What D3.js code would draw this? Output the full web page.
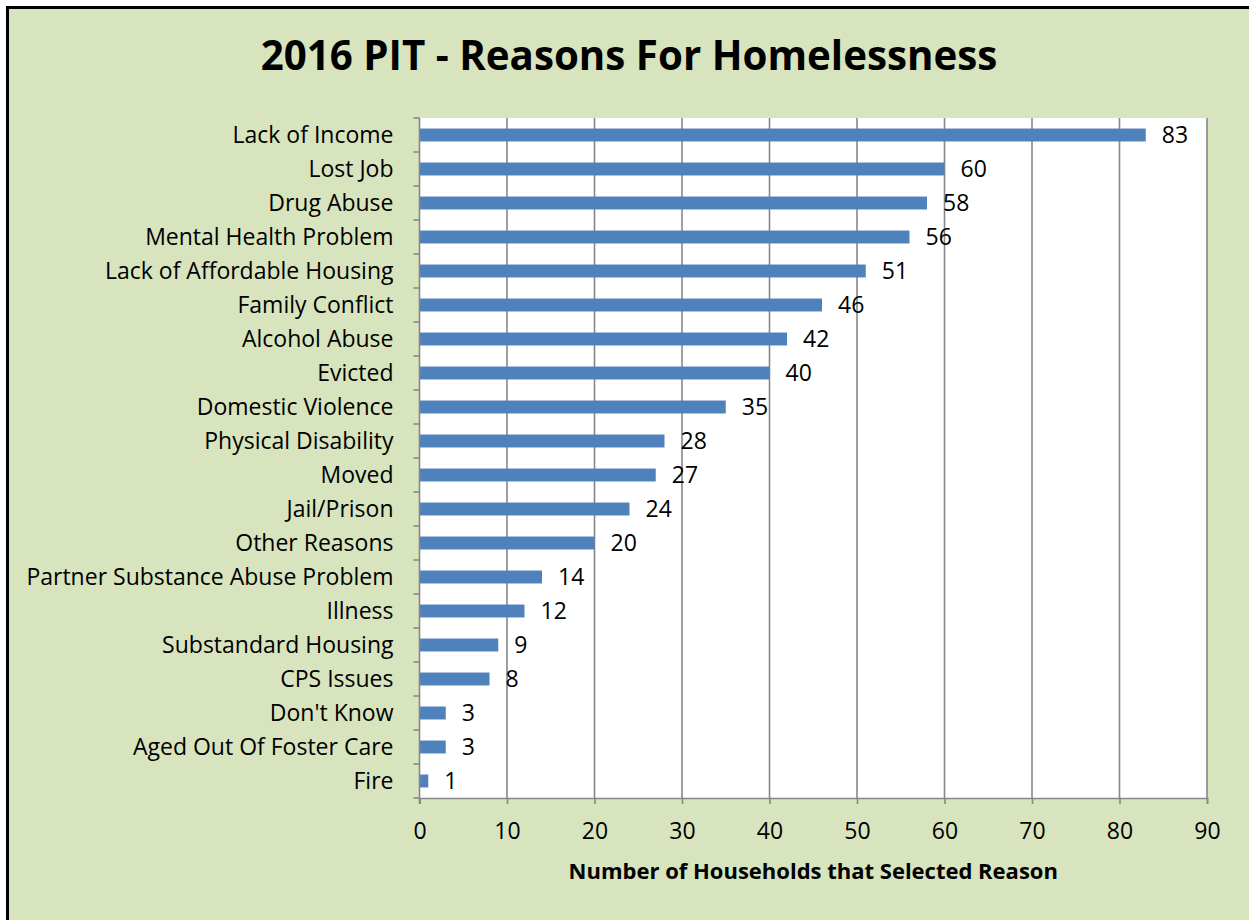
<!DOCTYPE html>
<html>
<head>
<meta charset="utf-8">
<script src="https://cdn.jsdelivr.net/npm/d3@7"></script>
<style>
  html, body { margin: 0; padding: 0; background: #ffffff; overflow: hidden; }
  svg { display: block; }
  text { font-family: "Open Sans", Lato, "Noto Sans", sans-serif; fill: #000; }
</style>
</head>
<body>
<svg id="chart" width="1249" height="920"></svg>
<script>
// Reasons reported in the 2016 Point-in-Time count, largest first
const categories = [
  "Lack of Income", "Lost Job", "Drug Abuse", "Mental Health Problem",
  "Lack of Affordable Housing", "Family Conflict", "Alcohol Abuse", "Evicted",
  "Domestic Violence", "Physical Disability", "Moved", "Jail/Prison",
  "Other Reasons", "Partner Substance Abuse Problem", "Illness",
  "Substandard Housing", "CPS Issues", "Don't Know", "Aged Out Of Foster Care", "Fire"
];
const households = [83, 60, 58, 56, 51, 46, 42, 40, 35, 28, 27, 24, 20, 14, 12, 9, 8, 3, 3, 1];
const xTicks = [0, 10, 20, 30, 40, 50, 60, 70, 80, 90];

const titleText = "2016 PIT - Reasons For Homelessness";
const xTitle = "Number of Households that Selected Reason";

const labelSize = "23px";

const svg = d3.select("#chart");

// chart background with a heavy left/top frame edge
svg.append("rect")
  .attr("x", 7.5).attr("y", 7.5)
  .attr("width", 1300).attr("height", 1000)
  .attr("fill", "#D7E4BD")
  .attr("stroke", "#000").attr("stroke-width", 3);

const plot = { left: 419.5, right: 1207, top: 118, bottom: 798 };

const x = d3.scaleLinear().domain([0, 90]).range([plot.left, plot.right]);
const y = d3.scaleBand().domain(categories).range([plot.top, plot.bottom])
  .paddingInner(0.62).paddingOuter(0.31);

// plot area
svg.append("rect")
  .attr("x", plot.left).attr("y", plot.top)
  .attr("width", plot.right - plot.left).attr("height", plot.bottom - plot.top)
  .attr("fill", "#ffffff");

// vertical gridlines
svg.append("g").selectAll("line")
  .data(xTicks.filter(d => d > 0))
  .join("line")
  .attr("x1", d => x(d)).attr("x2", d => x(d))
  .attr("y1", plot.top).attr("y2", plot.bottom)
  .attr("stroke", "#878787").attr("stroke-width", 1.6);

// bars
svg.append("g").selectAll("rect")
  .data(categories)
  .join("rect")
  .attr("x", x(0))
  .attr("y", d => y(d))
  .attr("width", (d, i) => x(households[i]) - x(0))
  .attr("height", y.bandwidth())
  .attr("fill", "#4F81BD");

// value labels
svg.append("g").selectAll("text")
  .data(categories)
  .join("text")
  .attr("x", (d, i) => x(households[i]) + 16)
  .attr("y", d => y(d) + y.bandwidth() / 2)
  .attr("dy", "0.36em")
  .style("font-size", labelSize)
  .text((d, i) => households[i]);

// x axis
const xAxis = svg.append("g")
  .attr("transform", `translate(0,${plot.bottom})`)
  .call(d3.axisBottom(x).tickValues(xTicks).tickSize(6).tickPadding(19).tickFormat(d3.format("d")));
xAxis.select(".domain").attr("stroke", "#878787").attr("stroke-width", 1.6);
xAxis.selectAll(".tick line").attr("stroke", "#878787").attr("stroke-width", 1.6);
xAxis.selectAll(".tick text").style("font-size", labelSize)
  .style("font-family", "'Open Sans', Lato, sans-serif").attr("fill", "#000");

// y axis: ticks between categories, labels centred on each bar
const boundaries = d3.range(categories.length + 1)
  .map(i => plot.top + i * (plot.bottom - plot.top) / categories.length);
const yAxis = svg.append("g");
yAxis.append("line")
  .attr("x1", plot.left).attr("x2", plot.left)
  .attr("y1", plot.top).attr("y2", plot.bottom + 6)
  .attr("stroke", "#878787").attr("stroke-width", 1.6);
yAxis.selectAll("line.tk")
  .data(boundaries)
  .join("line").attr("class", "tk")
  .attr("x1", plot.left - 6).attr("x2", plot.left)
  .attr("y1", d => d).attr("y2", d => d)
  .attr("stroke", "#878787").attr("stroke-width", 1.6);
yAxis.selectAll("text")
  .data(categories)
  .join("text")
  .attr("x", plot.left - 26)
  .attr("y", d => y(d) + y.bandwidth() / 2)
  .attr("dy", "0.36em")
  .attr("text-anchor", "end")
  .style("font-size", labelSize)
  .text(d => d);

// title
svg.append("text")
  .attr("x", 629).attr("y", 55)
  .attr("dy", "0.36em")
  .attr("text-anchor", "middle")
  .style("font-size", "40.3px").style("font-weight", "bold")
  .text(titleText);

// x axis title
svg.append("text")
  .attr("x", (plot.left + plot.right) / 2).attr("y", 871)
  .attr("dy", "0.36em")
  .attr("text-anchor", "middle")
  .style("font-size", "22px").style("font-weight", "bold")
  .text(xTitle);
</script>
</body>
</html>
